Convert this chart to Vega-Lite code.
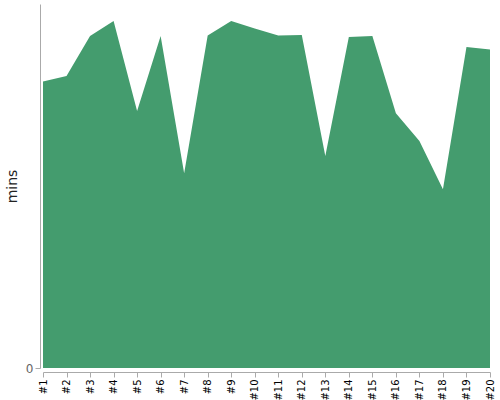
{
  "$schema": "https://vega.github.io/schema/vega-lite/v6.json",
  "width": 447,
  "height": 364,
  "autosize": {"type": "none"},
  "padding": {"left": 43, "top": 4, "right": 10, "bottom": 32},
  "background": "white",
  "config": {"view": {"stroke": null}, "font": "DejaVu Sans"},
  "data": {
    "values": [
      {"race": "#1", "mins": 71.6},
      {"race": "#2", "mins": 73.0},
      {"race": "#3", "mins": 83.0},
      {"race": "#4", "mins": 86.75},
      {"race": "#5", "mins": 64.25},
      {"race": "#6", "mins": 83.0},
      {"race": "#7", "mins": 48.7},
      {"race": "#8", "mins": 83.1},
      {"race": "#9", "mins": 86.75},
      {"race": "#10", "mins": 84.9},
      {"race": "#11", "mins": 83.1},
      {"race": "#12", "mins": 83.25},
      {"race": "#13", "mins": 53.0},
      {"race": "#14", "mins": 82.75},
      {"race": "#15", "mins": 83.0},
      {"race": "#16", "mins": 63.7},
      {"race": "#17", "mins": 56.75},
      {"race": "#18", "mins": 44.7},
      {"race": "#19", "mins": 80.25},
      {"race": "#20", "mins": 79.6}
    ]
  },
  "mark": {"type": "area", "color": "#449c6e", "opacity": 1},
  "encoding": {
    "x": {
      "field": "race",
      "type": "ordinal",
      "sort": null,
      "scale": {"type": "point", "padding": 0},
      "axis": {
        "title": null,
        "labelAngle": -90,
        "labelColor": "#000",
        "labelFontSize": 10,
        "domainColor": "#aaa",
        "tickColor": "#aaa",
        "offset": 4,
        "grid": false,
        "labelPadding": 2
      }
    },
    "y": {
      "field": "mins",
      "type": "quantitative",
      "scale": {"domain": [0, 91], "nice": false},
      "axis": {
        "title": "mins",
        "values": [0],
        "grid": false,
        "offset": 3,
        "domainColor": "#aaa",
        "tickColor": "#aaa",
        "labelColor": "#666",
        "labelFontSize": 12,
        "labelPadding": 2,
        "titleFontSize": 14,
        "titleFontWeight": "normal",
        "titleColor": "#222",
        "titlePadding": 6
      }
    }
  }
}
